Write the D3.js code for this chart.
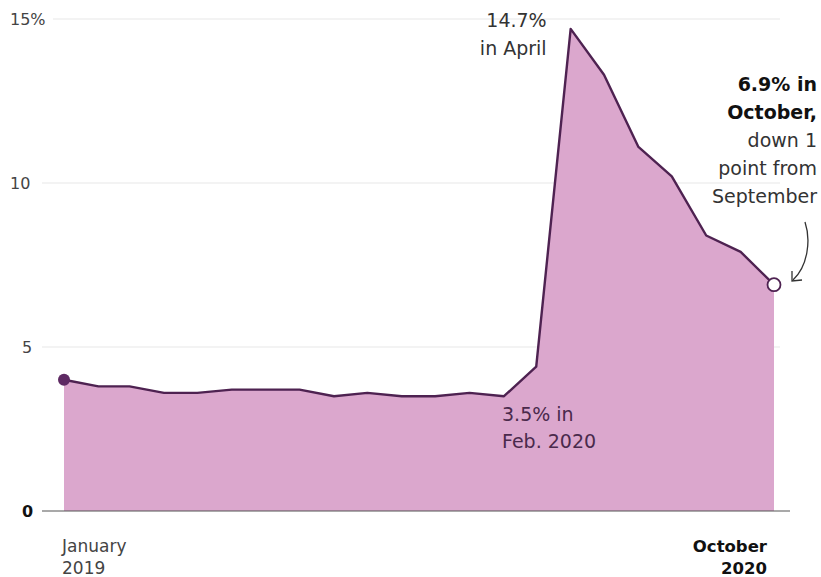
<!DOCTYPE html>
<html>
<head>
<meta charset="utf-8">
<script src="https://cdn.jsdelivr.net/npm/d3@7"></script>
<style>
  body { margin: 0; background: #fff; }
  svg { font-family: 'DejaVu Sans', sans-serif; }
</style>
</head>
<body>
<svg width="821" height="577"></svg>
<script>
// monthly unemployment rate, Jan 2019 - Oct 2020
const months = [
  '2019-01', '2019-02', '2019-03', '2019-04', '2019-05', '2019-06',
  '2019-07', '2019-08', '2019-09', '2019-10', '2019-11', '2019-12',
  '2020-01', '2020-02', '2020-03', '2020-04', '2020-05', '2020-06',
  '2020-07', '2020-08', '2020-09', '2020-10'
];
const rates = [
  4.0, 3.8, 3.8, 3.6, 3.6, 3.7, 3.7, 3.7, 3.5, 3.6, 3.5, 3.5,
  3.6, 3.5, 4.4, 14.7, 13.3, 11.1, 10.2, 8.4, 7.9, 6.9
];
const yTicks = [0, 5, 10, 15];
const yTickLabels = ['0', '5', '10', '15%'];

const svg = d3.select('svg');
const MARGIN = { TOP: 19, LEFT: 64, RIGHT: 47, BOTTOM: 66 };
const WIDTH = +svg.attr('width') - MARGIN.LEFT - MARGIN.RIGHT;
const HEIGHT = +svg.attr('height') - MARGIN.TOP - MARGIN.BOTTOM;

const parseMonth = d3.timeParse('%Y-%m');
const data = months.map((m, i) => ({ date: parseMonth(m), value: rates[i] }));

const x = d3.scaleTime()
  .domain(d3.extent(data, d => d.date))
  .range([MARGIN.LEFT, MARGIN.LEFT + WIDTH]);
const y = d3.scaleLinear()
  .domain([0, 15])
  .range([MARGIN.TOP + HEIGHT, MARGIN.TOP]);

const LINE = '#4e2251';
const FILL = '#dba7cd';

// gridlines + labels
const grid = svg.append('g');
grid.selectAll('line')
  .data(yTicks.filter(t => t > 0))
  .join('line')
  .attr('x1', d => (d === 15 ? 53 : 42))
  .attr('x2', 780)
  .attr('y1', d => y(d))
  .attr('y2', d => y(d))
  .attr('stroke', '#e8e8e8')
  .attr('stroke-width', 1.2);

grid.selectAll('text')
  .data(yTicks)
  .join('text')
  .attr('x', d => (d === 0 || d === 5 ? 22 : 10))
  .attr('y', d => y(d) + 6)
  .attr('font-size', 16)
  .attr('font-weight', d => (d === 0 ? 'bold' : 'normal'))
  .attr('fill', d => (d === 0 ? '#111' : '#444'))
  .text((d, i) => yTickLabels[i]);

// area + line
const area = d3.area()
  .x(d => x(d.date))
  .y0(y(0))
  .y1(d => y(d.value));
const line = d3.line()
  .x(d => x(d.date))
  .y(d => y(d.value));

svg.append('path')
  .attr('d', area(data))
  .attr('fill', FILL);

// baseline
svg.append('line')
  .attr('x1', 42)
  .attr('x2', 790)
  .attr('y1', y(0))
  .attr('y2', y(0))
  .attr('stroke', '#555')
  .attr('stroke-width', 1.2);

svg.append('path')
  .attr('d', line(data))
  .attr('fill', 'none')
  .attr('stroke', LINE)
  .attr('stroke-width', 2.4)
  .attr('stroke-linejoin', 'round');

// end points
const first = data[0];
const last = data[data.length - 1];
svg.append('circle')
  .attr('cx', x(first.date))
  .attr('cy', y(first.value))
  .attr('r', 6)
  .attr('fill', '#5e2a63');
svg.append('circle')
  .attr('cx', x(last.date))
  .attr('cy', y(last.value))
  .attr('r', 6.5)
  .attr('fill', '#fff')
  .attr('stroke', LINE)
  .attr('stroke-width', 1.8);

// annotations
function lines(xPos, yPos, rows, opts) {
  const t = svg.append('text')
    .attr('font-size', opts.size || 19)
    .attr('fill', opts.fill || '#333')
    .attr('text-anchor', opts.anchor || 'start');
  rows.forEach((r, i) => {
    t.append('tspan')
      .attr('x', xPos)
      .attr('y', yPos + i * (opts.lh || 28))
      .attr('font-weight', r.bold ? 'bold' : 'normal')
      .attr('fill', r.bold ? '#111' : null)
      .text(r.text);
  });
}

const peak = data[15];
lines(x(peak.date) - 24, 27, [{ text: '14.7%' }, { text: 'in April' }], { anchor: 'end', fill: '#333' });

const feb = data[13];
lines(x(feb.date) - 2, 421, [{ text: '3.5% in' }, { text: 'Feb. 2020' }], { fill: '#4a2a4c', lh: 27 });

lines(817, 91, [
  { text: '6.9% in', bold: true },
  { text: 'October,', bold: true },
  { text: 'down 1' },
  { text: 'point from' },
  { text: 'September' }
], { anchor: 'end', fill: '#333' });

// curved arrow
svg.append('path')
  .attr('d', 'M805,222 C811,240 808,266 793,280')
  .attr('fill', 'none')
  .attr('stroke', '#333')
  .attr('stroke-width', 1.3);
svg.append('path')
  .attr('d', 'M792,271 L792,281 L802,280')
  .attr('fill', 'none')
  .attr('stroke', '#333')
  .attr('stroke-width', 1.3);

// x labels
lines(x(first.date) - 2, 552, [{ text: 'January' }, { text: '2019' }], { fill: '#444', lh: 22, size: 17 });
const xl = svg.append('text')
  .attr('font-size', 16.5)
  .attr('font-weight', 'bold')
  .attr('fill', '#111')
  .attr('text-anchor', 'end');
xl.append('tspan').attr('x', x(last.date) - 7).attr('y', 552).text('October');
xl.append('tspan').attr('x', x(last.date) - 7).attr('y', 574).text('2020');
</script>
</body>
</html>
